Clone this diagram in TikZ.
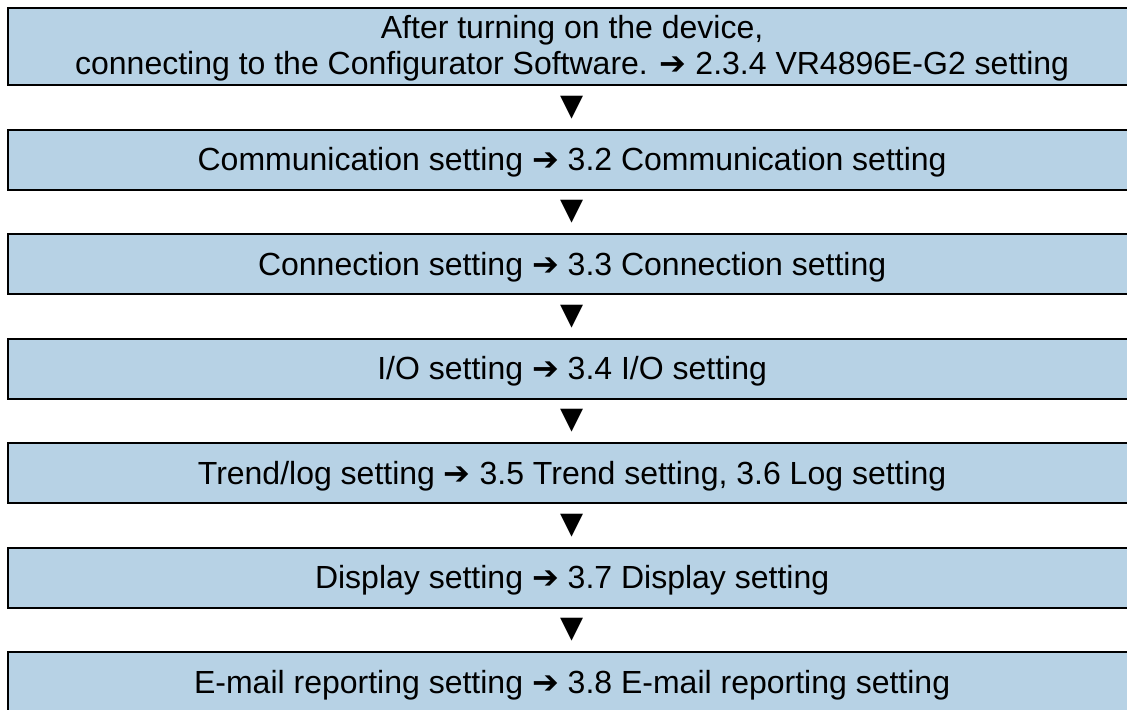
\documentclass[tikz,border=0pt]{standalone}
\usepackage{fontspec}
\setmainfont{Liberation Sans}
\newfontfamily\symbfont{DejaVu Sans}
\usetikzlibrary{positioning}

\definecolor{boxblue}{RGB}{183,210,229}
\newcommand{\goesto}{{\symbfont ➔}}

\begin{document}
\begin{tikzpicture} [font=\fontsize{16}{18}\selectfont,
            node distance = 21.15pt,
            stepbox/.style = {draw=black, line width=1.1pt, fill=boxblue,
                minimum width=564pt, minimum height=30pt,
                text height=20.5pt, text depth=9.5pt,
                inner sep=0pt, align=center},
            tri/.style = {font=\symbfont\fontsize{15}{15}\selectfont,
                inner sep=0pt}]

            \useasboundingbox (0,0) rectangle (563.5pt,-354.5pt);

            % Start
            \node (s0) [stepbox,
                minimum height=38.5pt,
                text height=, text depth=,
                anchor=north west] at (3.5pt,-3.5pt)
                {\rule{0pt}{13.5pt}After turning on the device,\\
                connecting to the Configurator Software. \goesto{} 2.3.4 VR4896E-G2 setting};

            % Communication
            \node (s1) [stepbox,
                below = of s0] {Communication setting \goesto{} 3.2 Communication setting};

            % Connection
            \node (s2) [stepbox,
                below = of s1] {Connection setting \goesto{} 3.3 Connection setting};

            % I/O
            \node (s3) [stepbox,
                below = of s2] {I/O setting \goesto{} 3.4 I/O setting};

            % Trend/log
            \node (s4) [stepbox,
                below = of s3] {Trend/log setting \goesto{} 3.5 Trend setting, 3.6 Log setting};

            % Display
            \node (s5) [stepbox,
                below = of s4] {Display setting \goesto{} 3.7 Display setting};

            % E-mail
            \node (s6) [stepbox,
                below = of s5] {E-mail reporting setting \goesto{} 3.8 E-mail reporting setting};

            % Triangles
            \foreach \a/\b in {s0/s1, s1/s2, s2/s3, s3/s4, s4/s5, s5/s6}
                \path (\a.south) -- (\b.north) node[midway, tri] {▼};
        \end{tikzpicture}
\end{document}
